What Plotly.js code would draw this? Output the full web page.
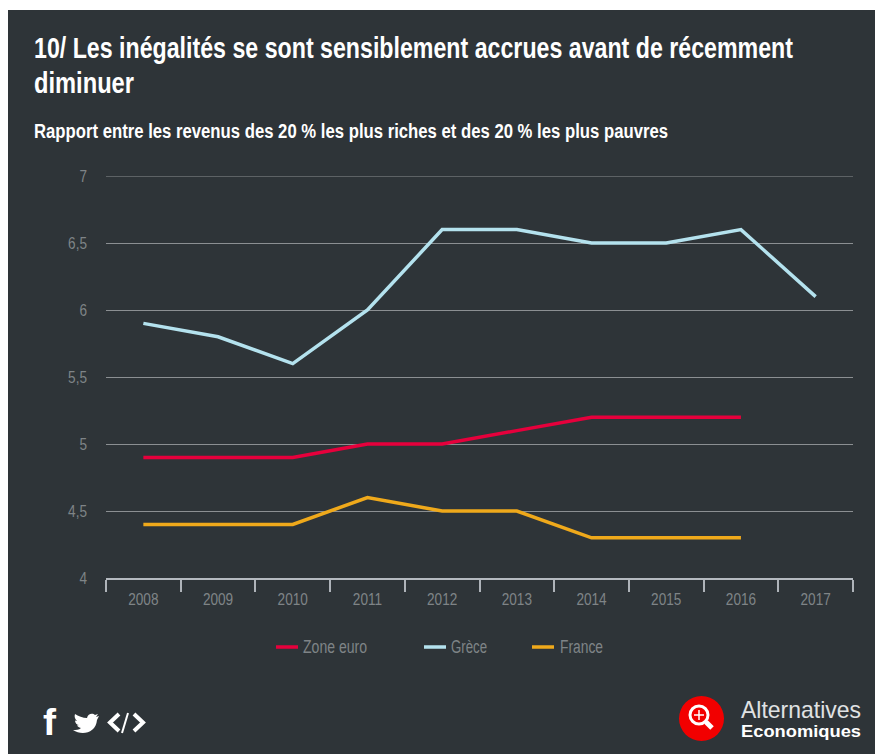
<!DOCTYPE html>
<html><head><meta charset="utf-8">
<script src="https://cdn.plot.ly/plotly-3.0.1.min.js"></script>
<style>html,body{margin:0;padding:0;background:#fff}</style></head>
<body><div id="chart" style="width:875px;height:754px"></div>
<script>
const years = ['2008','2009','2010','2011','2012','2013','2014','2015','2016','2017'];
const zoneEuro = [4.9,4.9,4.9,5.0,5.0,5.1,5.2,5.2,5.2,null];
const grece = [5.9,5.8,5.6,6.0,6.6,6.6,6.5,6.5,6.6,6.1];
const france = [4.4,4.4,4.4,4.6,4.5,4.5,4.3,4.3,4.3,null];
const yTicks = [4,4.5,5,5.5,6,6.5,7];
const yLabels = ['4','4,5','5','5,5','6','6,5','7'];
const BG = '#2e3438', FONT = '"Liberation Sans",Arimo,sans-serif', GREY='#7f8487';
const L=106,R=853,T=176,B=578;
const px = x => (x-L)/(R-L), py = y => (B-y)/(B-T);
const pathOf = s => s.replace(/(-?[\d.]+),(-?[\d.]+)/g,(m,a,b)=>px(+a).toFixed(5)+','+py(+b).toFixed(5));
const tr = (name,y,color)=>({type:'scatter',mode:'lines',name,x:years,y,line:{color,width:3.5},hoverinfo:'x+y+name'});
const traces = [tr('Zone euro',zoneEuro,'#e6003c'),tr('Grèce',grece,'#b4e2ee'),tr('France',france,'#efa91b')];
const sh = o => Object.assign({xref:'paper',yref:'paper',layer:'above'},o);
const rect=(x0,y0,x1,y1,fill,layer)=>sh({type:'rect',x0:px(x0),x1:px(x1),y0:py(y0),y1:py(y1),fillcolor:fill,line:{width:0},layer:layer||'above'});
const circ=(x0,y0,x1,y1,fill,lc,lw)=>sh({type:'circle',x0:px(x0),x1:px(x1),y0:py(y0),y1:py(y1),fillcolor:fill,line:{color:lc||fill,width:lw||0}});
const seg=(x0,y0,x1,y1,c,w)=>sh({type:'line',x0:px(x0),x1:px(x1),y0:py(y0),y1:py(y1),line:{color:c,width:w}});
const path=(d,fill,lc,lw)=>sh({type:'path',path:pathOf(d),fillcolor:fill,line:{color:lc||fill,width:lw||0}});
const shapes=[
  rect(8,10,875,754,BG,'below'),
  {type:'line',xref:'paper',yref:'y',x0:0,x1:1,y0:7,y1:7,layer:'below',line:{color:'#8b8f92',width:1}},
  seg(276,647,298,647,'#e6003c',3.5),
  seg(424,647,446,647,'#b4e2ee',3.5),
  seg(532,647,554,647,'#efa91b',3.5),
  path('M99,716 L96,717 L98,714 L95,715 C93,713 88,713 87,718 C83,718 78,716 75,714 C74,717 75,719 77,721 L75,720.5 C75,723 77,725 79,725 L77,725.5 C78,727 80,728 81,728 C79,730 76,730 73,730 C82,736 96,733 97,720 Z','#ffffff'),
  path('M119,714 L110,722.5 L119,731 M134,714 L143,722.5 L134,731','rgba(0,0,0,0)','#ffffff',4),
  seg(128,713,122,733,'#ffffff',2),
  circ(679,696,724,741,'#f20000'),
  circ(690,706,708,724,'rgba(0,0,0,0)','#ffffff',3),
  seg(694,715,704,715,'#ffffff',1.5),
  seg(699,710,699,720,'#ffffff',1.5),
  seg(706,722,712,728,'#ffffff',5)
];
const ann=(text,x,y,size,color,w)=>({xref:'paper',yref:'paper',x:px(x),y:py(y),text,showarrow:false,xanchor:'left',yanchor:'middle',align:'left',font:{family:FONT,size,color},_w:w});
const notes=[
  ann('<b>10/ Les inégalités se sont sensiblement accrues avant de récemment</b>',32,48,30,'#ffffff',759),
  ann('<b>diminuer</b>',32,82,30,'#ffffff',100),
  ann('<b>Rapport entre les revenus des 20 % les plus riches et des 20 % les plus pauvres</b>',32,131,20,'#ffffff',634),
  ann('Zone euro',301,647,18,GREY,64),
  ann('Grèce',449,647,18,GREY,36),
  ann('France',558,647,18,GREY,43),
  ann('<b>f</b>',41,722,36,'#ffffff',13),
  ann('Alternatives',739,709,24,'#e0e2e3',120),
  ann('<b>Economiques</b>',739,731,17,'#ffffff',120)
];
const widths = notes.map(n=>n._w);
const annotations = notes.map(({_w,...n})=>n);
const layout={
  width:875,height:754,autosize:false,showlegend:false,
  paper_bgcolor:'#ffffff',plot_bgcolor:BG,
  margin:{l:L,r:875-R,t:T,b:754-B,pad:0},
  font:{family:FONT,color:GREY,size:17},
  xaxis:{type:'category',categoryorder:'array',categoryarray:years,range:[-0.5,9.5],tickson:'boundaries',ticks:'outside',ticklen:12,tickwidth:1.5,tickcolor:'#aeb3b9',showline:true,linecolor:'#b5bac0',linewidth:1.5,showgrid:false,zeroline:false,ticklabelstandoff:5,tickfont:{size:17,color:GREY},fixedrange:true},
  yaxis:{range:[4,7],tickvals:yTicks,ticktext:yLabels,ticks:'',ticklabelstandoff:18,showgrid:true,gridcolor:'#8b8f92',gridwidth:1,showline:false,zeroline:false,tickfont:{size:17,color:GREY},fixedrange:true},
  shapes,annotations
};
const squeeze=(el,w)=>{el.setAttribute('textLength',w);el.setAttribute('lengthAdjust','spacingAndGlyphs');};
Plotly.newPlot('chart',traces,layout,{displayModeBar:false}).then(gd=>{
  gd.querySelectorAll('.annotation-text').forEach((t,i)=>squeeze(t,widths[i]));
  gd.querySelectorAll('.xtick text, .ytick text').forEach(t=>squeeze(t,t.getComputedTextLength()*0.8));
});
</script></body></html>
